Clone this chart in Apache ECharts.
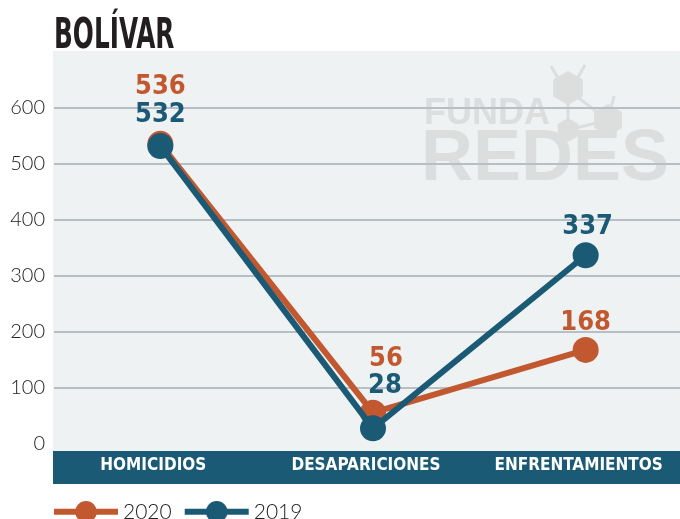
<!DOCTYPE html>
<html>
<head>
<meta charset="utf-8">
<script src="https://cdn.jsdelivr.net/npm/echarts@6/dist/echarts.min.js"></script>
<style>
  html, body { margin: 0; padding: 0; background: #fff; overflow: hidden; }
  #chart-line { width: 692px; height: 519px; }
</style>
</head>
<body>
<div id="chart-line"></div>
<script>
const categories = ['HOMICIDIOS', 'DESAPARICIONES', 'ENFRENTAMIENTOS'];
const values2020 = [536, 56, 168];
const values2019 = [532, 28, 337];
const seriesNames = ['2020', '2019'];

const orange = '#c2582f';
const teal = '#1a5a75';
const narrow = '"Liberation Sans Narrow", "DejaVu Sans Condensed", sans-serif';
const light = 'Lato, "Open Sans", sans-serif';

const chartDom = document.getElementById('chart-line');
const myChart = echarts.init(chartDom);

function hex(cx, cy, r) {
  const pts = [];
  for (let i = 0; i < 6; i++) {
    const a = Math.PI / 6 + i * Math.PI / 3;
    pts.push([cx + r * Math.cos(a), cy + r * Math.sin(a)]);
  }
  return pts;
}

const wm = '#dcdddd';

// label placement per category (dx, distance above the point)
const labelShift2020 = [[0, 30], [13, 27], [0, 0]];
const labelShift2019 = [[0, 5], [12, 16], [2, 2]];

const option = {
  animation: false,
  graphic: [
    // plot background
    { type: 'rect', z: -10, shape: { x: 53, y: 51, width: 640, height: 400 }, style: { fill: '#eef2f3' } },
    // watermark
    { type: 'text', z: -5, x: 424, y: 96, style: { text: 'FUNDA', fill: wm, font: '900 36px "Liberation Sans", sans-serif' } },
    { type: 'text', z: -5, x: 421, y: 124, style: { text: 'REDES', fill: wm, font: '900 72px "Liberation Sans", sans-serif' } },
    { type: 'polyline', z: -5, shape: { points: [[551, 66], [559, 80]] }, style: { stroke: wm, lineWidth: 3 } },
    { type: 'polyline', z: -5, shape: { points: [[585, 65], [577, 79]] }, style: { stroke: wm, lineWidth: 3 } },
    { type: 'polyline', z: -5, shape: { points: [[568, 90], [568, 130], [608, 120], [568, 90]] }, style: { stroke: wm, lineWidth: 3, fill: null } },
    { type: 'polyline', z: -5, shape: { points: [[608, 120], [614, 96]] }, style: { stroke: wm, lineWidth: 3 } },
    { type: 'polygon', z: -5, shape: { points: hex(568, 88, 17) }, style: { fill: wm } },
    { type: 'polygon', z: -5, shape: { points: hex(608, 120, 16) }, style: { fill: wm } },
    { type: 'polygon', z: -5, shape: { points: hex(568, 130, 12) }, style: { fill: wm } },
    // category band
    { type: 'rect', z: -1, shape: { x: 53, y: 451, width: 640, height: 33 }, style: { fill: teal } },
    // title
    { type: 'text', z: 5, x: 54, y: 15, scaleX: 0.64, style: { text: 'BOLÍVAR', fill: '#231f20', font: 'bold 43px ' + narrow } }
  ],
  grid: {
    left: 54,
    right: 0,
    top: 52,
    bottom: 75,
    containLabel: false
  },
  legend: {
    left: 46,
    top: 496,
    itemWidth: 64,
    itemHeight: 27,
    itemGap: 10,
    data: seriesNames,
    lineStyle: { width: 6 },
    textStyle: {
      fontFamily: light,
      fontWeight: 300,
      fontSize: 21,
      color: '#222'
    }
  },
  xAxis: {
    type: 'category',
    data: categories,
    z: 10,
    axisLine: { show: false },
    axisTick: { show: false },
    axisLabel: {
      interval: 0,
      hideOverlap: false,
      margin: 13,
      color: '#fff',
      fontFamily: narrow,
      fontWeight: 'bold',
      fontSize: 17,
      padding: [0, 14, 0, 0]
    }
  },
  yAxis: {
    type: 'value',
    min: 0,
    max: 700,
    interval: 100,
    axisLine: { show: false },
    axisTick: { show: false },
    axisLabel: {
      margin: 9,
      showMaxLabel: false,
      color: '#222',
      fontFamily: light,
      fontWeight: 300,
      fontSize: 20
    },
    splitLine: {
      showMinLine: false,
      showMaxLine: false,
      lineStyle: { color: '#b9bdc5', width: 2 }
    }
  },
  series: [
    {
      name: seriesNames[0],
      type: 'line',
      z: 3,
      symbol: 'circle',
      symbolSize: 26,
      lineStyle: { width: 6, color: orange },
      itemStyle: { color: orange },
      label: {
        show: true,
        position: 'top',
        color: orange,
        fontFamily: narrow,
        fontWeight: 'bold',
        fontSize: 27
      },
      data: values2020.map((v, i) => ({
        value: v,
        label: { distance: labelShift2020[i][1], offset: [labelShift2020[i][0], 0] }
      }))
    },
    {
      name: seriesNames[1],
      type: 'line',
      z: 4,
      symbol: 'circle',
      symbolSize: 26,
      lineStyle: { width: 6, color: teal },
      itemStyle: { color: teal },
      label: {
        show: true,
        position: 'top',
        color: teal,
        fontFamily: narrow,
        fontWeight: 'bold',
        fontSize: 27
      },
      data: values2019.map((v, i) => ({
        value: v,
        label: { distance: labelShift2019[i][1], offset: [labelShift2019[i][0], 0] }
      }))
    }
  ]
};

option && myChart.setOption(option);
</script>
</body>
</html>
